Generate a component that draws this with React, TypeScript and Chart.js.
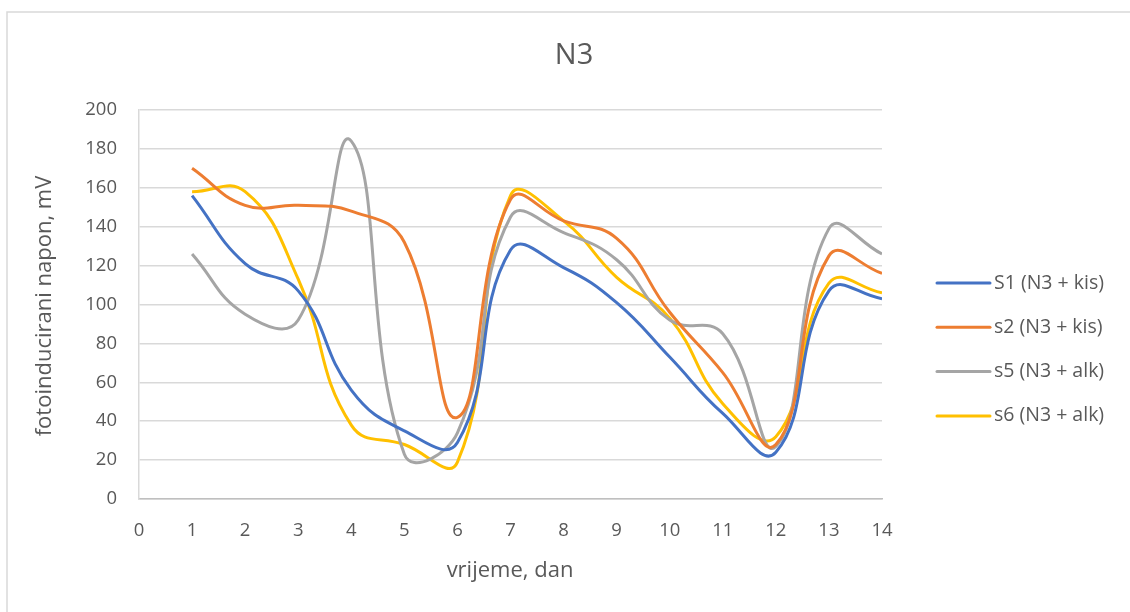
import React, { useEffect, useRef } from "react";
import { Chart, registerables } from "chart.js";

Chart.register(...registerables);

const days = [1, 2, 3, 4, 5, 6, 7, 8, 9, 10, 11, 12, 13, 14];
const s1 = [156, 121, 107, 56, 35, 29, 128, 119, 101, 73, 44, 24, 107, 103];
const s2 = [170, 151, 151, 148, 132, 42, 154, 143, 134, 96, 65, 28, 125, 116];
const s5 = [126, 95, 92, 184, 23, 34, 145, 137, 123, 92, 85, 27, 139, 126];
const s6 = [158, 158, 113, 38, 28, 19, 156, 143, 114, 93, 49, 32, 111, 106];
const seriesNames = ["S1 (N3 + kis)", "s2 (N3 + kis)", "s5 (N3 + alk)", "s6 (N3 + alk)"];
const seriesColors = ["#4472C4", "#ED7D31", "#A5A5A5", "#FFC000"];
const chartTitle = "N3";
const xTitle = "vrijeme, dan";
const yTitle = "fotoinducirani napon, mV";

const FONT = "'Open Sans', 'Noto Sans', sans-serif";
const TXT = "#595959";

export default function App() {
  const ref = useRef<HTMLCanvasElement | null>(null);
  useEffect(() => {
    if (!ref.current) return;
    const all = [s1, s2, s5, s6];
    const decor = {
      id: "decor",
      beforeDraw(chart: any) {
        const c = chart.ctx;
        c.save();
        c.fillStyle = "#fff";
        c.fillRect(0, 0, chart.width, chart.height);
        c.strokeStyle = "#d9d9d9";
        c.lineWidth = 1.5;
        c.beginPath();
        c.moveTo(7, chart.height + 5);
        c.lineTo(7, 12);
        c.lineTo(chart.width + 5, 12);
        c.stroke();
        c.restore();
      },
      afterDraw(chart: any) {
        const c = chart.ctx;
        c.save();
        c.fillStyle = TXT;
        c.textAlign = "center";
        c.textBaseline = "middle";
        c.font = `29px ${FONT}`;
        c.fillText(chartTitle, 574, 56);
        c.font = `22px ${FONT}`;
        c.fillText(xTitle, 510, 571);
        c.save();
        c.translate(45, 306);
        c.rotate(-Math.PI / 2);
        c.fillText(yTitle, 0, 0);
        c.restore();
        c.textAlign = "left";
        c.font = `19.5px ${FONT}`;
        for (let i = 0; i < seriesNames.length; i++) {
          const y = 283 + i * 44.3;
          c.strokeStyle = seriesColors[i];
          c.lineWidth = 3;
          c.lineCap = "round";
          c.beginPath();
          c.moveTo(937, y);
          c.lineTo(990, y);
          c.stroke();
          c.fillText(seriesNames[i], 994, y);
        }
        c.restore();
      },
    };
    const chart = new Chart(ref.current, {
      type: "line",
      data: {
        datasets: all.map((vals, i) => ({
          label: seriesNames[i],
          data: days.map((d, j) => ({ x: d, y: vals[j] })),
          borderColor: seriesColors[i],
          backgroundColor: seriesColors[i],
          borderWidth: 3,
          pointRadius: 0,
          tension: 0.45,
          fill: false,
        })),
      },
      options: {
        animation: false,
        responsive: false,
        devicePixelRatio: 1,
        layout: { padding: { left: 59, top: 110, right: 248, bottom: 73 } },
        plugins: { legend: { display: false }, title: { display: false }, tooltip: { enabled: false } },
        scales: {
          x: {
            type: "linear",
            min: 0,
            max: 14,
            ticks: { stepSize: 1, color: TXT, font: { family: FONT, size: 18.5 }, padding: 21, maxRotation: 0 },
            grid: { display: false, drawTicks: false },
            border: { display: true, color: "#bfbfbf", width: 1.5 },
            afterFit: (s: any) => { s.height = 40; },
          },
          y: {
            min: 0,
            max: 200,
            ticks: { stepSize: 20, color: TXT, font: { family: FONT, size: 18.5 }, padding: 22 },
            grid: { color: "#d9d9d9", lineWidth: 1.5, drawTicks: false },
            border: { display: true, color: "#d9d9d9", width: 1.5 },
            afterFit: (s: any) => { s.width = 80; },
          },
        },
      },
      plugins: [decor],
    });
    return () => chart.destroy();
  }, []);
  return (
    <div style={{ position: "fixed", left: 0, top: 0, width: 1130, height: 612, background: "#fff" }}>
      <canvas ref={ref} width={1130} height={612} style={{ width: 1130, height: 612, display: "block" }} />
    </div>
  );
}
